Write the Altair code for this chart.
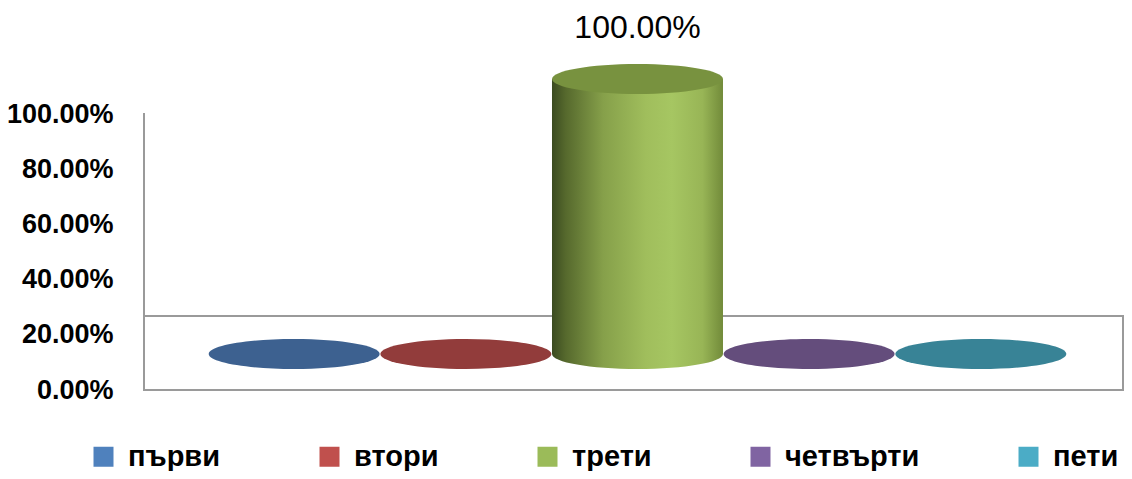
import altair as alt
import pandas as pd

# ---- data ----
categories = ["първи", "втори", "трети", "четвърти", "пети"]
values = [0.0, 0.0, 1.0, 0.0, 0.0]
legend_colors = ["#4F81BD", "#C0504D", "#9BBB59", "#8064A2", "#4BACC6"]
top_colors = ["#3D6190", "#923C3B", "#78923F", "#644D7C", "#388396"]
y_ticks = [0.0, 0.2, 0.4, 0.6, 0.8, 1.0]
floor_top = [0.269]
axis_top = [1.007]

df = pd.DataFrame({"cat": categories, "idx": list(range(len(categories))),
                   "value": values, "top": top_colors})
floor_df = pd.DataFrame({"lo": [0.0], "hi": floor_top, "ax": axis_top})

# ---- layout / style ----
PLOT_W, PLOT_H = 979, 380
UNIT = 171.65
X_DOMAIN = [-0.875, -0.875 + PLOT_W / UNIT]
Y_DOMAIN = [0, 1.3818]
DEPTH = -36
ELLIPSE = "M -1 0 A 1 0.1754 0 1 0 1 0 A 1 0.1754 0 1 0 -1 0 Z"
ELL_SIZE = 171 ** 2
FONT = "Liberation Sans, Arial, sans-serif"
GRID = "#9a9a9a"

GRAD = alt.Gradient(
    gradient="linear", x1=0, x2=1, y1=0, y2=0,
    stops=[
        alt.GradientStop(color="#3B4B20", offset=0),
        alt.GradientStop(color="#56692D", offset=0.08),
        alt.GradientStop(color="#86A04A", offset=0.3),
        alt.GradientStop(color="#A0BE5C", offset=0.55),
        alt.GradientStop(color="#A6C662", offset=0.7),
        alt.GradientStop(color="#98B556", offset=0.88),
        alt.GradientStop(color="#728B3A", offset=1),
    ],
)

xs = alt.Scale(domain=X_DOMAIN, nice=False, zero=False, padding=0)
ys = alt.Scale(domain=Y_DOMAIN, nice=False, zero=False, padding=0)
YAX = alt.Axis(values=y_ticks, format=".2%", labelFont=FONT,
               labelFontSize=27, labelFontWeight="bold",
               labelColor="black", labelPadding=31, ticks=False,
               tickSize=0, domain=False, grid=False, title=None,
               labelOverlap=False)
X = alt.X("idx:Q", scale=xs, axis=None)


def Y(field):
    return alt.Y(field, scale=ys, axis=YAX)


floor = alt.Chart(floor_df).mark_rect(
    fill="white", fillOpacity=0, stroke=GRID, strokeWidth=2
).encode(
    x=alt.datum(X_DOMAIN[0], scale=xs, axis=None),
    x2=alt.datum(X_DOMAIN[1]),
    y=Y("lo:Q"),
    y2="hi:Q",
)

axis_line = alt.Chart(floor_df).mark_rule(color=GRID, strokeWidth=2).encode(
    x=alt.datum(X_DOMAIN[0], scale=xs, axis=None),
    y=Y("lo:Q"),
    y2="ax:Q",
)

flat = alt.Chart(df).transform_filter("datum.value == 0").mark_point(
    shape=ELLIPSE, size=ELL_SIZE, filled=True, opacity=1, strokeWidth=0,
    yOffset=DEPTH
).encode(
    x=X,
    y=Y("value:Q"),
    fill=alt.Fill("top:N", scale=None),
)

cyl = alt.Chart(df).transform_filter("datum.value > 0").transform_calculate(base="0")

cyl_bottom = cyl.mark_point(
    shape=ELLIPSE, size=ELL_SIZE, filled=True, opacity=1, strokeWidth=0,
    fill=GRAD, yOffset=DEPTH
).encode(x=X, y=Y("base:Q"))

cyl_body = cyl.mark_bar(width=171, fill=GRAD, yOffset=DEPTH, y2Offset=DEPTH).encode(
    x=X, y=Y("base:Q"), y2="value:Q"
)

cyl_top = cyl.mark_point(
    shape=ELLIPSE, size=ELL_SIZE, filled=True, opacity=1, strokeWidth=0,
    yOffset=DEPTH
).encode(
    x=X, y=Y("value:Q"),
    fill=alt.Fill("top:N", scale=None),
)

label = cyl.mark_text(
    font=FONT, fontSize=32, dy=-87, baseline="middle", color="black"
).encode(
    x=X, y=Y("value:Q"),
    text=alt.Text("value:Q", format=".2%"),
)

legend_layer = alt.Chart(df).mark_point(size=0, filled=True, opacity=1).encode(
    x=X,
    y=Y("value:Q"),
    color=alt.Color(
        "cat:N",
        scale=alt.Scale(domain=categories, range=legend_colors),
        sort=categories,
        legend=alt.Legend(
            orient="none", legendX=-55, legendY=432, direction="horizontal",
            title=None, symbolType="square", symbolSize=400,
            symbolStrokeWidth=0, symbolOpacity=1, labelFont=FONT,
            labelFontSize=29, labelFontWeight="bold", labelColor="black",
            labelOffset=10, columnPadding=94, labelLimit=400,
        ),
    ),
)

chart = alt.layer(
    floor, flat, axis_line, cyl_bottom, cyl_body, cyl_top, label, legend_layer
).properties(
    width=PLOT_W, height=PLOT_H,
    padding={"left": 136, "top": 2, "right": 1, "bottom": 81},
    autosize=alt.AutoSizeParams(type="none"),
    background="white",
).configure_view(strokeWidth=0)

chart.save("out.html", embed_options={"renderer": "svg", "actions": False})
